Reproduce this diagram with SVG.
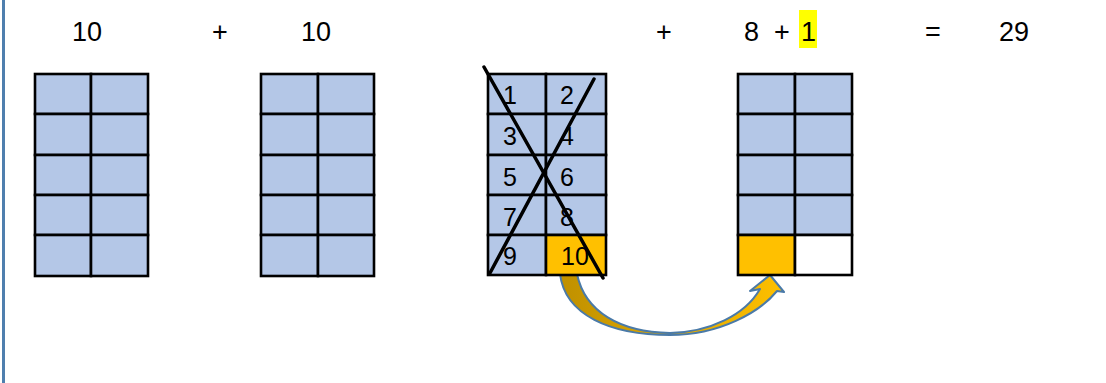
<svg xmlns="http://www.w3.org/2000/svg" width="1106" height="383" viewBox="0 0 1106 383">
<style>
  .cell { fill: #b4c7e7; stroke: #000; stroke-width: 2.6; }
  .or { fill: #ffc000; stroke: #000; stroke-width: 2.6; }
  .wh { fill: #fff; stroke: #000; stroke-width: 2.6; }
  .t { font-family: "Liberation Sans", Arial, sans-serif; font-size: 27px; fill: #000; }
  .n { font-family: "Liberation Sans", Arial, sans-serif; font-size: 25px; fill: #000; }
  .x { stroke: #000; stroke-width: 3.5; stroke-linecap: round; }
</style>
<defs>
  <linearGradient id="ag" x1="0" y1="0" x2="1" y2="0">
    <stop offset="0" stop-color="#bf9000"/>
    <stop offset="0.5" stop-color="#dfa800"/>
    <stop offset="1" stop-color="#ffc000"/>
  </linearGradient>
</defs>
<rect width="1106" height="383" fill="#fff"/>
<line x1="3.5" y1="0" x2="3.5" y2="383" stroke="#4f7fae" stroke-width="3"/>

<g id="labels">
  <text class="t" x="72" y="41">10</text>
  <text class="t" x="220" y="41" text-anchor="middle">+</text>
  <text class="t" x="301" y="41">10</text>
  <text class="t" x="664" y="41" text-anchor="middle">+</text>
  <text class="t" x="744" y="41">8</text>
  <text class="t" x="782" y="41" text-anchor="middle">+</text>
  <rect x="799" y="10" width="18" height="38" fill="#ffff00"/>
  <text class="t" x="801" y="41">1</text>
  <text class="t" x="933" y="41" text-anchor="middle">=</text>
  <text class="t" x="999" y="41">29</text>
</g>

<g id="arrow">
  <path d="M 560 274 C 565 315 610 335 670 335 C 720 335 760 312 777 291 L 784 292 L 770 275 L 750 291 L 760 289 C 745 315 710 332 670 333 C 620 332 585 312 577 274 Z" fill="url(#ag)" stroke="#4a7aa8" stroke-width="2" stroke-linejoin="round"/>
</g>

<g id="grid1">
  <rect class="cell" x="35" y="74" width="56" height="40"/><rect class="cell" x="91" y="74" width="57" height="40"/>
  <rect class="cell" x="35" y="114" width="56" height="41"/><rect class="cell" x="91" y="114" width="57" height="41"/>
  <rect class="cell" x="35" y="155" width="56" height="40"/><rect class="cell" x="91" y="155" width="57" height="40"/>
  <rect class="cell" x="35" y="195" width="56" height="40"/><rect class="cell" x="91" y="195" width="57" height="40"/>
  <rect class="cell" x="35" y="235" width="56" height="41"/><rect class="cell" x="91" y="235" width="57" height="41"/>
</g>

<g id="grid2">
  <rect class="cell" x="261" y="74" width="57" height="40"/><rect class="cell" x="318" y="74" width="56" height="40"/>
  <rect class="cell" x="261" y="114" width="57" height="41"/><rect class="cell" x="318" y="114" width="56" height="41"/>
  <rect class="cell" x="261" y="155" width="57" height="40"/><rect class="cell" x="318" y="155" width="56" height="40"/>
  <rect class="cell" x="261" y="195" width="57" height="40"/><rect class="cell" x="318" y="195" width="56" height="40"/>
  <rect class="cell" x="261" y="235" width="57" height="41"/><rect class="cell" x="318" y="235" width="56" height="41"/>
</g>

<g id="grid3">
  <rect class="cell" x="488" y="74" width="58" height="40"/><rect class="cell" x="546" y="74" width="60" height="40"/>
  <rect class="cell" x="488" y="114" width="58" height="41"/><rect class="cell" x="546" y="114" width="60" height="41"/>
  <rect class="cell" x="488" y="155" width="58" height="40"/><rect class="cell" x="546" y="155" width="60" height="40"/>
  <rect class="cell" x="488" y="195" width="58" height="40"/><rect class="cell" x="546" y="195" width="60" height="40"/>
  <rect class="cell" x="488" y="235" width="58" height="40"/><rect class="or" x="546" y="235" width="60" height="40"/>
  <text class="n" x="503" y="104">1</text><text class="n" x="560" y="104">2</text>
  <text class="n" x="503" y="145">3</text><text class="n" x="560" y="145">4</text>
  <text class="n" x="503" y="186">5</text><text class="n" x="560" y="186">6</text>
  <text class="n" x="503" y="226">7</text><text class="n" x="560" y="226">8</text>
  <text class="n" x="503" y="265">9</text><text class="n" x="561" y="265">10</text>
  <line class="x" x1="484" y1="67" x2="603" y2="278"/>
  <line class="x" x1="594" y1="79" x2="490" y2="273"/>
</g>

<g id="grid4">
  <rect class="cell" x="738" y="74" width="57" height="40"/><rect class="cell" x="795" y="74" width="57" height="40"/>
  <rect class="cell" x="738" y="114" width="57" height="41"/><rect class="cell" x="795" y="114" width="57" height="41"/>
  <rect class="cell" x="738" y="155" width="57" height="40"/><rect class="cell" x="795" y="155" width="57" height="40"/>
  <rect class="cell" x="738" y="195" width="57" height="40"/><rect class="cell" x="795" y="195" width="57" height="40"/>
  <rect class="or" x="738" y="235" width="57" height="40"/><rect class="wh" x="795" y="235" width="57" height="40"/>
</g>
</svg>
